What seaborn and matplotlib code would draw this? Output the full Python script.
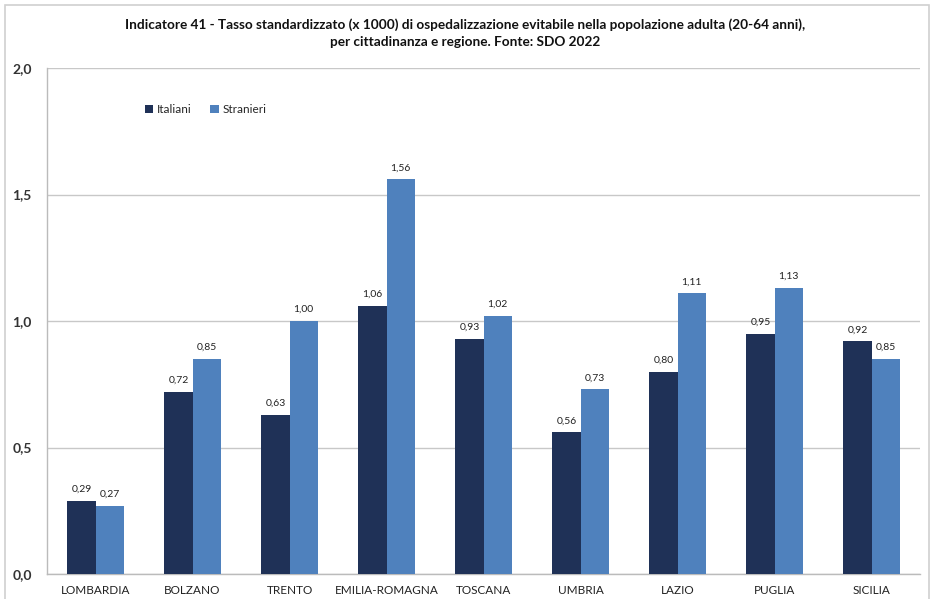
import matplotlib
matplotlib.use("Agg")
import matplotlib.pyplot as plt
import seaborn as sns
import pandas as pd
from matplotlib.patches import Rectangle
from matplotlib.ticker import FixedLocator

regions = ["LOMBARDIA", "BOLZANO", "TRENTO", "EMILIA-ROMAGNA", "TOSCANA",
           "UMBRIA", "LAZIO", "PUGLIA", "SICILIA"]
italiani = [0.29, 0.72, 0.63, 1.06, 0.93, 0.56, 0.80, 0.95, 0.92]
stranieri = [0.27, 0.85, 1.00, 1.56, 1.02, 0.73, 1.11, 1.13, 0.85]
series_names = ["Italiani", "Stranieri"]
colors = ["#1F3157", "#4F81BD"]
title = ("Indicatore 41 - Tasso standardizzato (x 1000) di ospedalizzazione evitabile nella popolazione adulta (20-64 anni),\n"
         "per cittadinanza e regione. Fonte: SDO 2022")

df = pd.DataFrame({
    "Regione": regions * 2,
    "Valore": italiani + stranieri,
    "Serie": [series_names[0]] * len(regions) + [series_names[1]] * len(regions),
})

sns.set_theme(style="white")
plt.rcParams["font.family"] = ["Lato", "DejaVu Sans"]

fig = plt.figure(figsize=(9.3, 5.99), dpi=100)
ax = fig.add_axes([47 / 930, 1 - 574 / 599, (920 - 47) / 930, (574 - 68) / 599])

sns.barplot(data=df, x="Regione", y="Valore", hue="Serie", order=regions,
            hue_order=series_names, palette=colors, width=0.58, ax=ax,
            saturation=1, errorbar=None, linewidth=0, zorder=3)

ax.set_ylim(0, 2.0)
ax.set_xlim(-0.5, len(regions) - 0.5)
ax.set_yticks([0, 0.5, 1.0, 1.5, 2.0])
ax.set_yticklabels(["0,0", "0,5", "1,0", "1,5", "2,0"], fontsize=10,
                   color="#333333", fontweight="bold")
ax.yaxis.grid(True, color="#C8C8C8", linewidth=1, zorder=0)
ax.set_axisbelow(True)
ax.set_xlabel("")
ax.set_ylabel("")
ax.tick_params(axis="x", length=0, pad=8, labelsize=8.5, labelcolor="#222222")
ax.tick_params(axis="y", length=5, width=0.8, color="#BBBBBB", direction="out", pad=6)
ax.xaxis.set_minor_locator(FixedLocator([i - 0.5 for i in range(len(regions) + 1)]))
ax.tick_params(axis="x", which="minor", length=5, width=0.8, color="#BBBBBB", direction="out")

for s in ["top", "right"]:
    ax.spines[s].set_visible(False)
for s in ["left", "bottom"]:
    ax.spines[s].set_color("#BBBBBB")
    ax.spines[s].set_linewidth(1)

for cont in ax.containers:
    ax.bar_label(cont, labels=[f"{v:.2f}".replace(".", ",") for v in cont.datavalues],
                 padding=5, fontsize=7.5, color="#222222")

leg = ax.legend(loc="center left", bbox_to_anchor=(0.1, 0.917), ncol=2, frameon=False,
                fontsize=8.5, handlelength=0.7, handleheight=0.7, handletextpad=0.3,
                columnspacing=1.6)

fig.text(0.5, 1 - 33 / 599, title, ha="center", va="center", fontsize=9.8,
         fontweight="bold", color="#111111", linespacing=1.5)

fig.patches.append(Rectangle((5 / 930, -0.02), (929 - 5) / 930, 1 - 5 / 599 + 0.02,
                             transform=fig.transFigure, fill=False,
                             edgecolor="#D0D0D0", linewidth=1.2))

fig.savefig("out.png", dpi=100, facecolor="white")
